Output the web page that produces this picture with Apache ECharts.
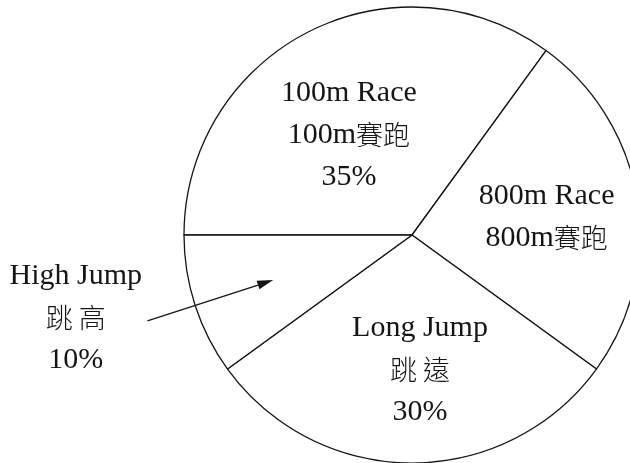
<!DOCTYPE html>
<html>
<head>
<meta charset="utf-8">
<script src="https://cdn.jsdelivr.net/npm/echarts@6/dist/echarts.min.js"></script>
<style>
html,body{margin:0;padding:0;background:#fff;}
#chart{width:630px;height:463px;}
</style>
</head>
<body>
<div id="chart"></div>
<script>
// ---- data ----
var namesEn = ['100m Race', '800m Race', 'Long Jump', 'High Jump'];
var namesZh = ['100m賽跑', '800m賽跑', '跳 遠', '跳 高'];
var values = [35, 25, 30, 10];
var showPercent = [true, false, true, true];

// ---- layout ----
var CX = 412, CY = 235, R = 228;
var START = 180;
var labelShift = [[-10, 4], [19, 0], [8, 18], [-225, 47]];
var fontFamily = "'Liberation Serif', 'Times New Roman', 'Noto Sans CJK TC', serif";

var pieData = values.map(function (v, i) {
  return { name: namesEn[i], value: v };
});

function fmt(p) {
  var i = p.dataIndex;
  var zh = namesZh[i];
  var m = zh.match(/^([0-9a-zA-Z]*)(.*)$/);
  var line2 = (m[1] ? '{en|' + m[1] + '}' : '') + '{zh|' + m[2] + '}';
  var lines = ['{en|' + namesEn[i] + '}', line2];
  if (showPercent[i]) lines.push('{en|' + values[i] + '%}');
  return lines.join('\n');
}

// arrow for the High Jump slice, computed from the pie geometry and data
var total = values.reduce(function (a, b) { return a + b; }, 0);
var hjIndex = 3;
var before = 0;
for (var k = 0; k < hjIndex; k++) before += values[k];
var midDeg = START - (before + values[hjIndex] / 2) / total * 360;
var th = midDeg * Math.PI / 180;
var ux = Math.cos(th), uy = -Math.sin(th);
var tail = [CX + ux * R * 1.22, CY + uy * R * 1.22];
var tip = [CX + ux * R * 0.64, CY + uy * R * 0.64];
var dirx = -ux, diry = -uy; // direction from tail to tip
var headLen = 16, headW = 4.5;
var base = [tip[0] - dirx * headLen, tip[1] - diry * headLen];
var px = -diry, py = dirx;
var headPts = [tip, [base[0] + px * headW, base[1] + py * headW], [base[0] - px * headW, base[1] - py * headW]];

var chart = echarts.init(document.getElementById('chart'), null, { renderer: 'canvas' });
chart.setOption({
  backgroundColor: '#ffffff',
  animation: false,
  series: [{
    type: 'pie',
    center: [CX, CY],
    radius: R,
    startAngle: START,
    clockwise: true,
    avoidLabelOverlap: false,
    silent: true,
    data: pieData,
    itemStyle: { color: '#ffffff', borderColor: '#151515', borderWidth: 1.3 },
    emphasis: { disabled: true },
    label: {
      show: true,
      position: 'inside',
      formatter: fmt,
      color: '#151515',
      rich: {
        en: { fontFamily: fontFamily, fontSize: 30, lineHeight: 42, color: '#151515' },
        zh: { fontFamily: "'Noto Sans CJK TC', sans-serif", fontSize: 27, lineHeight: 42, color: '#151515', fontWeight: 300 }
      }
    },
    labelLine: { show: false },
    labelLayout: function (p) {
      var s = labelShift[p.dataIndex];
      return { dx: s[0], dy: s[1] };
    }
  }],
  graphic: [
    { type: 'line', silent: true, z: 100, zlevel: 1, shape: { x1: tail[0], y1: tail[1], x2: base[0], y2: base[1] }, style: { stroke: '#151515', lineWidth: 1.3 } },
    { type: 'polygon', silent: true, z: 100, zlevel: 1, shape: { points: headPts }, style: { fill: '#151515' } }
  ]
});
</script>
</body>
</html>
